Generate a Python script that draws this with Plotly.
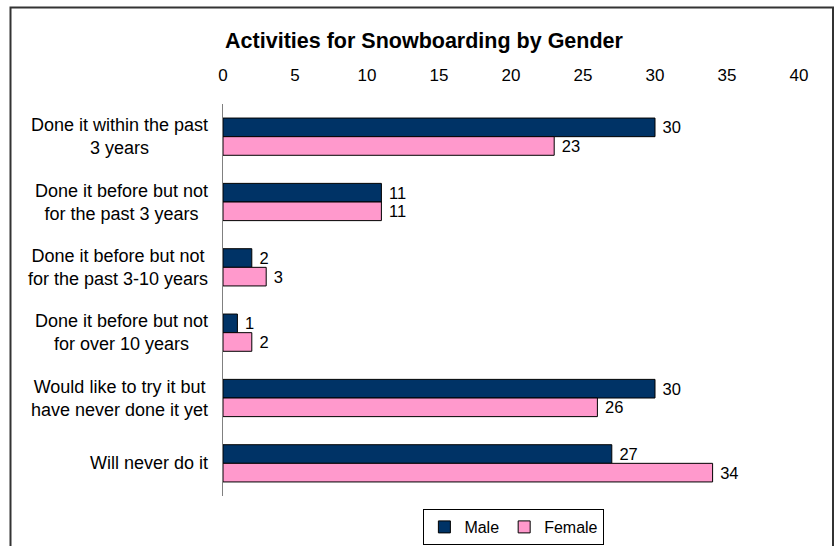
import plotly.graph_objects as go

# Survey responses, percent of each gender
categories = [
    "Done it within the past<br>3 years",
    "Done it before but not<br>for the past 3 years",
    "Done it before but not<br>for the past 3-10 years",
    "Done it before but not<br>for over 10 years",
    "Would like to try it but<br>have never done it yet",
    "Will never do it",
]
male = [30, 11, 2, 1, 30, 27]
female = [23, 11, 3, 2, 26, 34]
x_ticks = [0, 5, 10, 15, 20, 25, 30, 35, 40]

FONT = "Arial, Liberation Sans, sans-serif"
W, H = 837, 546
L, R, T, B = 223, 38, 104, 50

def bar_labels(vals):
    # non-breaking space keeps a small gap between bar end and value
    return ["\u00a0" + str(v) for v in vals]

fig = go.Figure()
fig.add_trace(go.Bar(
    y=list(range(len(categories))), x=male, name="Male", orientation="h",
    marker=dict(color="#003366", line=dict(color="#000000", width=1)),
    text=bar_labels(male), textposition="outside", constraintext="none",
    textfont=dict(family=FONT, size=16.5, color="#000000"), cliponaxis=False,
))
fig.add_trace(go.Bar(
    y=list(range(len(categories))), x=female, name="Female", orientation="h",
    marker=dict(color="#FF99CC", line=dict(color="#000000", width=1)),
    text=bar_labels(female), textposition="outside", constraintext="none",
    textfont=dict(family=FONT, size=16.5, color="#000000"), cliponaxis=False,
))

# Category labels: centred lines, right-aligned block left of the axis
for i, c in enumerate(categories):
    fig.add_annotation(
        x=0, xref="paper", y=i, yref="y", text=c, showarrow=False,
        xanchor="right", align="center", xshift=-13,
        font=dict(family=FONT, size=18, color="#000000"),
    )

# Chart-area frame (open at the bottom edge of the page)
pw, ph = W - L - R, H - T - B
def px_x(p):
    return (p - L) / pw
def px_y(p):
    return 1 - (p - T) / ph
fig.add_shape(
    type="path", xref="paper", yref="paper",
    path=f"M {px_x(10.5)},{px_y(560)} L {px_x(10.5)},{px_y(7.5)} "
         f"L {px_x(833)},{px_y(7.5)} L {px_x(833)},{px_y(560)}",
    line=dict(color="#333333", width=2),
)

fig.update_layout(
    width=W, height=H,
    margin=dict(l=L, r=R, t=T, b=B, autoexpand=False),
    paper_bgcolor="white", plot_bgcolor="white",
    barmode="group", bargap=0.43, bargroupgap=0,
    title=dict(
        text="<b>Activities for Snowboarding by Gender</b>",
        x=424 / W, xref="container", xanchor="center",
        y=1 - 40 / H, yref="container", yanchor="middle",
        font=dict(family=FONT, size=21.5, color="#000000"),
    ),
    xaxis=dict(
        range=[0, 40], tickvals=x_ticks, side="top",
        showgrid=False, zeroline=False, showline=False, ticks="",
        tickfont=dict(family=FONT, size=17, color="#000000"),
        ticklabelstandoff=19,
    ),
    yaxis=dict(
        range=[len(categories) - 0.5, -0.5],
        showticklabels=False, showgrid=False, zeroline=False,
        showline=True, linecolor="#808080", linewidth=1, ticks="",
    ),
    showlegend=True,
    legend=dict(
        orientation="h", traceorder="normal",
        x=0.505, xanchor="center", y=px_y(509), yanchor="top",
        bordercolor="#000000", borderwidth=1, bgcolor="white",
        font=dict(family=FONT, size=16, color="#000000"),
        itemwidth=30,
    ),
)

fig.write_html("out.html")
